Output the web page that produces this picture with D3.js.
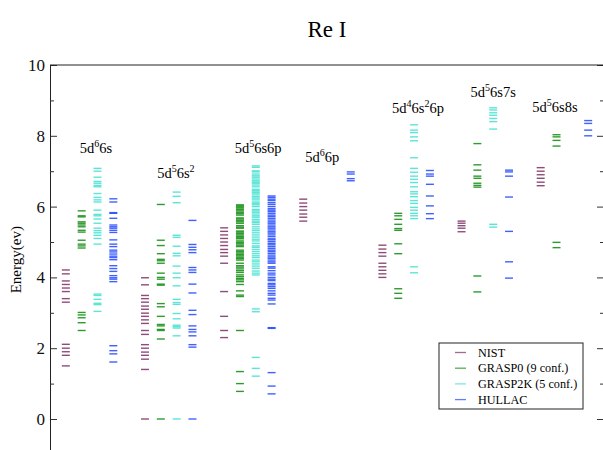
<!DOCTYPE html>
<html>
<head>
<meta charset="utf-8">
<script src="https://cdn.jsdelivr.net/npm/d3@7"></script>
<style>
  body { margin: 0; background: #fff; }
  svg { display: block; }
  svg text { font-family: "Liberation Serif", "Times New Roman", "DejaVu Serif", serif; }
</style>
</head>
<body>
<div id="chart"></div>
<script>
// configurations (^ = exposant sur un chiffre)
var configs = ["5d^66s", "5d^56s^2", "5d^56s6p", "5d^66p", "5d^46s^26p", "5d^56s7s", "5d^56s8s"];
var sources = ["NIST", "GRASP0 (9 conf.)", "GRASP2K (5 conf.)", "HULLAC"];

// niveaux d'energie (eV), un tableau par configuration
var nist = [
  [4.21, 4.10, 3.90, 3.80, 3.70, 3.60, 3.40, 3.30, 2.11, 2.00, 1.90, 1.80, 1.50],
  [3.99, 3.79, 3.49, 3.40, 3.30, 3.19, 3.10, 2.99, 2.90, 2.80, 2.70, 2.50, 2.39, 2.10, 2.00, 1.89, 1.80, 1.69, 1.40, 0],
  [5.40, 5.30, 5.20, 5.10, 5.00, 4.90, 4.79, 4.70, 4.60, 4.40, 3.60, 2.90, 2.50, 2.30],
  [6.21, 6.10, 6.00, 5.90, 5.79, 5.70, 5.59],
  [4.91, 4.80, 4.70, 4.60, 4.40, 4.30, 4.20, 4.10, 4.00],
  [5.59, 5.53, 5.46, 5.39, 5.29],
  [7.10, 7.00, 6.90, 6.80, 6.69, 6.59]
];
var grasp0 = [
  [5.88, 5.74, 5.71, 5.57, 5.53, 5.48, 5.43, 5.33, 5.28, 5.05, 4.94, 4.89, 4.83, 3.01, 2.94, 2.86, 2.72, 2.50],
  [6.06, 5.05, 4.90, 4.67, 4.51, 4.47, 4.40, 4.12, 4.00, 3.95, 3.81, 3.78, 3.26, 3.17, 2.90, 2.67, 2.63, 2.53, 2.50, 2.26, 0],
  [6.05, 6.02, 5.99, 5.96, 5.92, 5.88, 5.84, 5.80, 5.76, 5.68, 5.65, 5.61, 5.57, 5.53, 5.46, 5.42, 5.39, 5.31, 5.28,
   5.24, 5.20, 5.16, 5.12, 5.09, 5.03, 4.99, 4.95, 4.91, 4.87, 4.77, 4.73, 4.69, 4.65, 4.61, 4.57, 4.53, 4.49, 4.40,
   4.33, 4.29, 4.24, 4.19, 4.14, 4.07, 4.02, 3.97, 3.93, 3.88, 3.80, 3.62, 3.50, 3.46, 2.50, 1.34, 1.00, 0.78],
  [],
  [5.81, 5.74, 5.64, 5.50, 5.38, 5.33, 4.95, 4.67, 3.68, 3.55, 3.41],
  [7.78, 7.18, 7.03, 6.86, 6.80, 6.66, 6.60, 6.55, 4.04, 3.59],
  [8.03, 7.97, 7.87, 7.71, 4.99, 4.84]
];
var grasp2k = [
  [7.08, 7.00, 6.83, 6.71, 6.66, 6.60, 6.56, 6.37, 6.26, 6.19, 6.13, 5.90, 5.78, 5.74, 5.65, 5.53, 5.39, 5.32, 5.26,
   5.19, 5.10, 4.94, 3.53, 3.49, 3.38, 3.27, 3.23, 3.04],
  [6.41, 6.29, 6.11, 5.19, 5.13, 4.88, 4.68, 4.61, 4.32, 4.12, 3.99, 3.76, 3.38, 3.29, 3.24, 2.98, 2.83, 2.65, 2.61,
   2.57, 2.35, 0],
  [7.15, 7.11, 7.01, 6.98, 6.92, 6.87, 6.83, 6.78, 6.73, 6.69, 6.66, 6.61, 6.56, 6.49, 6.45, 6.41, 6.38, 6.33, 6.28,
   6.24, 6.19, 6.13, 6.09, 6.05, 6.00, 5.92, 5.88, 5.84, 5.79, 5.74, 5.70, 5.64, 5.59, 5.55, 5.50, 5.43, 5.37, 5.32,
   5.26, 5.20, 5.14, 5.08, 5.03, 4.96, 4.89, 4.85, 4.79, 4.73, 4.67, 4.61, 4.56, 4.49, 4.44, 4.38, 4.32, 4.26, 4.18,
   4.12, 4.07, 3.11, 3.03, 1.74, 1.43, 1.21],
  [],
  [8.31, 8.16, 8.09, 7.97, 7.86, 7.38, 7.08, 6.97, 6.86, 6.77, 6.68, 6.56, 6.42, 6.36, 6.28, 6.17, 6.09, 5.98, 5.90,
   5.81, 5.74, 5.66, 4.30, 4.13],
  [8.79, 8.73, 8.65, 8.58, 8.49, 8.40, 8.19, 5.50, 5.42],
  []
];
var hullac = [
  [6.22, 6.13, 5.83, 5.81, 5.67, 5.48, 5.43, 5.39, 5.33, 5.27, 5.06, 4.94, 4.87, 4.77, 4.72, 4.66, 4.60, 4.56, 4.50,
   4.33, 4.25, 4.17, 4.05, 3.99, 3.95, 3.88, 2.07, 1.93, 1.84, 1.61],
  [5.61, 4.93, 4.85, 4.78, 4.70, 4.28, 4.21, 4.14, 3.81, 3.56, 3.07, 2.95, 2.63, 2.53, 2.46, 2.35, 2.10, 2.03, 0],
  [6.30, 6.26, 6.21, 6.17, 6.11, 6.06, 6.00, 5.94, 5.90, 5.86, 5.81, 5.76, 5.72, 5.67, 5.62, 5.57, 5.53, 5.48, 5.43,
   5.39, 5.34, 5.29, 5.25, 5.20, 5.15, 5.09, 5.06, 5.01, 4.96, 4.92, 4.87, 4.82, 4.77, 4.73, 4.68, 4.63, 4.58, 4.54,
   4.49, 4.44, 4.40, 4.30, 4.26, 4.19, 4.12, 4.07, 4.00, 3.95, 3.91, 3.83, 3.79, 3.74, 3.69, 3.62, 3.55, 3.50, 3.41,
   3.36, 3.25, 2.58, 2.56, 1.31, 0.93, 0.71],
  [6.98, 6.92, 6.79, 6.73],
  [7.02, 6.92, 6.86, 6.63, 6.30, 6.02, 5.80, 5.66],
  [7.03, 6.98, 6.86, 6.27, 5.30, 4.44, 3.98],
  [8.43, 8.35, 8.16, 8.00]
];

// emplacement des etiquettes (unites x, energie)
var labelX = [0.58, 1.59, 2.63, 3.44, 4.65, 5.60, 6.38];
var labelE = [7.51, 6.81, 7.51, 7.27, 8.64, 9.09, 8.68];

var colors = ["#7b2d63", "#0b8a0b", "#40e0d0", "#1f45ff"];
var colOffset = [0.2, 0.4, 0.6, 0.8];

var width = 603, height = 450;
var x = d3.scaleLinear().domain([0, 7]).range([50, 604]);
var y = d3.scaleLinear().domain([-1, 10]).range([454.4, 65]);

var svg = d3.select("#chart").append("svg")
  .attr("width", width)
  .attr("height", height);

// niveaux
var levels = [nist, grasp0, grasp2k, hullac];
var rows = [];
levels.forEach(function (src, s) {
  src.forEach(function (arr, g) {
    arr.forEach(function (e) { rows.push({ s: s, g: g, e: e }); });
  });
});
svg.append("g").selectAll("line").data(rows).join("line")
  .attr("x1", d => x(d.g + colOffset[d.s]) - 4)
  .attr("x2", d => x(d.g + colOffset[d.s]) + 4)
  .attr("y1", d => y(d.e))
  .attr("y2", d => y(d.e))
  .attr("stroke", d => colors[d.s])
  .attr("stroke-width", 1.4)
  .attr("stroke-opacity", 0.85);

// axes
var major = [0, 2, 4, 6, 8, 10], minor = [1, 3, 5, 7, 9];
var gl = svg.append("g").attr("transform", "translate(" + x(0) + ",0)")
  .call(d3.axisLeft(y).tickValues(major).tickSize(-7).tickPadding(5).tickFormat(d3.format("d")));
gl.append("g").call(d3.axisLeft(y).tickValues(minor).tickSize(-4).tickFormat(""));
var gr = svg.append("g").attr("transform", "translate(" + x(7) + ",0)")
  .call(d3.axisRight(y).tickValues(major).tickSize(-7).tickFormat(""));
gr.append("g").call(d3.axisRight(y).tickValues(minor).tickSize(-4).tickFormat(""));
svg.selectAll(".domain").attr("stroke", "#222");
svg.selectAll(".tick line").attr("stroke", "#333");
gl.selectAll(".tick text").attr("font-size", 17).attr("fill", "#111");

svg.append("line")
  .attr("x1", x(0)).attr("x2", x(7))
  .attr("y1", y(10)).attr("y2", y(10))
  .attr("stroke", "#222");

// titre et axe y
svg.append("text")
  .attr("x", (x(0) + x(7)) / 2).attr("y", 37)
  .attr("text-anchor", "middle")
  .attr("font-size", 23)
  .text("Re I");
svg.append("text")
  .attr("transform", "translate(21," + ((y(-1) + y(10)) / 2) + ") rotate(-90)")
  .attr("text-anchor", "middle")
  .attr("font-size", 15)
  .text("Energy(ev)");

// etiquettes des configurations
configs.forEach(function (c, i) {
  var t = svg.append("text")
    .attr("x", x(labelX[i])).attr("y", y(labelE[i]))
    .attr("text-anchor", "middle")
    .attr("font-size", 14.5);
  var parts = c.split(/(\^\d)/).filter(p => p.length);
  var up = false;
  parts.forEach(function (p) {
    if (p[0] === "^") {
      t.append("tspan").attr("font-size", 10).attr("dy", -6).text(p.slice(1));
      up = true;
    } else {
      t.append("tspan").attr("dy", up ? 6 : 0).text(p);
      up = false;
    }
  });
});

// legende
var leg = svg.append("g").attr("transform", "translate(439,343)");
leg.append("rect").attr("width", 144).attr("height", 66)
  .attr("fill", "#fff").attr("stroke", "#222");
var li = leg.selectAll(".li").data(sources).join("g")
  .attr("class", "li")
  .attr("transform", (d, i) => "translate(0," + (9.5 + i * 15.7) + ")");
li.append("line").attr("x1", 16).attr("x2", 27)
  .attr("stroke", (d, i) => colors[i]).attr("stroke-width", 1.3).attr("stroke-opacity", 0.7);
li.append("text").attr("x", 39).attr("dy", "0.35em")
  .attr("font-size", 12.2).text(d => d);
</script>
</body>
</html>
